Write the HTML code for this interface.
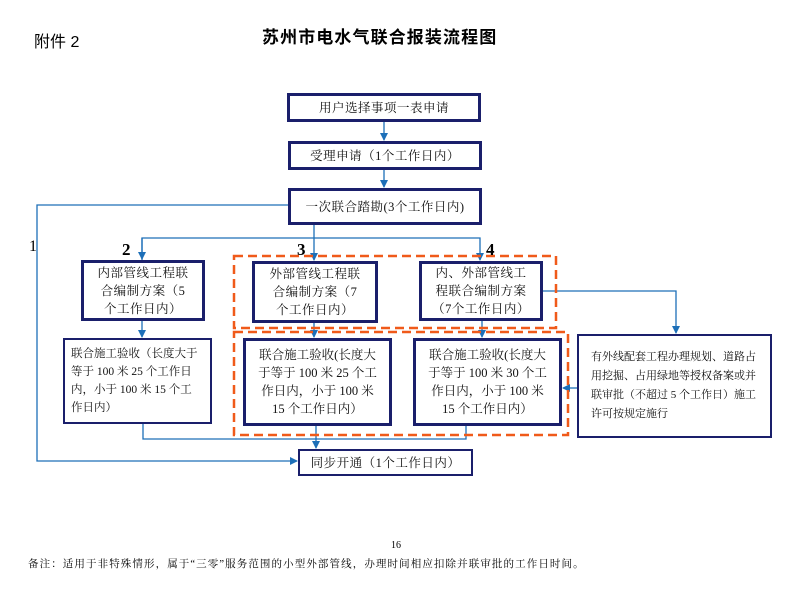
<!DOCTYPE html>
<html><head><meta charset="utf-8"><style>
body{margin:0;width:792px;height:594px;background:#fff;position:relative;font-family:"Liberation Serif","Noto Serif CJK SC","Noto Sans CJK SC",serif;overflow:hidden}
.b{position:absolute;border:3px solid #1a1f6b;box-sizing:border-box;display:flex;align-items:center;justify-content:center;text-align:center;font-size:12.5px;line-height:18px;color:#111;background:#fff;letter-spacing:0.5px}
.t{position:absolute;white-space:nowrap}
</style></head><body>
<div class="t" style="left:34px;top:28px;font-size:16px;font-family:'Liberation Sans','Noto Sans CJK SC',sans-serif">附件 2</div>
<div class="t" style="left:262px;top:23px;font-size:17px;letter-spacing:1.1px;font-weight:bold;font-family:'Noto Sans CJK SC',sans-serif">苏州市电水气联合报装流程图</div>
<svg width="792" height="594" style="position:absolute;left:0;top:0">
<defs><marker id="a" markerWidth="8" markerHeight="8" refX="7" refY="4" orient="auto" markerUnits="userSpaceOnUse"><path d="M0,0 L8,4 L0,8z" fill="#1d6fb8"/></marker></defs>
<g stroke="#1d6fb8" stroke-width="1.3" fill="none">
<line x1="384" y1="121" x2="384" y2="140" marker-end="url(#a)"/>
<line x1="384" y1="169" x2="384" y2="187" marker-end="url(#a)"/>
<polyline points="288,205 37,205 37,461 297,461" marker-end="url(#a)"/>
<line x1="314" y1="224" x2="314" y2="260" marker-end="url(#a)"/>
<polyline points="142,260 142,238 480,238 480,260" marker-end="url(#a)"/>
<line x1="142" y1="238" x2="142" y2="259" marker-end="url(#a)"/>
<line x1="142" y1="320" x2="142" y2="337" marker-end="url(#a)"/>
<line x1="314" y1="322" x2="314" y2="337" marker-end="url(#a)"/>
<line x1="482" y1="320" x2="482" y2="337" marker-end="url(#a)"/>
<polyline points="543,291 676,291 676,333" marker-end="url(#a)"/>
<line x1="577" y1="388" x2="563" y2="388" marker-end="url(#a)"/>
<polyline points="143,423 143,439 466,439 466,425"/>
<line x1="316" y1="425" x2="316" y2="448" marker-end="url(#a)"/>
</g>
<g stroke="#f05a1a" stroke-width="2.5" fill="none" stroke-dasharray="9,5">
<rect x="234" y="256" width="322" height="72"/>
<rect x="234" y="332" width="334" height="103"/>
</g>
</svg>
<div class="t" style="left:29px;top:238px;font-size:16px">1</div>
<div class="t" style="left:122px;top:240px;font-size:17px;font-weight:bold">2</div>
<div class="t" style="left:297px;top:240px;font-size:17px;font-weight:bold">3</div>
<div class="t" style="left:486px;top:240px;font-size:17px;font-weight:bold">4</div>
<div class="b" style="left:287px;top:93px;width:194px;height:29px">用户选择事项一表申请</div>
<div class="b" style="left:288px;top:141px;width:194px;height:29px">受理申请（1个工作日内）</div>
<div class="b" style="left:288px;top:188px;width:194px;height:37px">一次联合踏勘(3个工作日内)</div>
<div class="b" style="left:81px;top:260px;width:124px;height:61px">内部管线工程联<br>合编制方案（5<br>个工作日内）</div>
<div class="b" style="left:252px;top:261px;width:126px;height:62px">外部管线工程联<br>合编制方案（7<br>个工作日内）</div>
<div class="b" style="left:419px;top:261px;width:124px;height:60px">内、外部管线工<br>程联合编制方案<br>（7个工作日内）</div>
<div class="b" style="left:63px;top:338px;width:149px;height:86px;border-width:2.5px;font-size:11.5px;letter-spacing:0;text-align:left;justify-content:flex-start;padding-left:6px">联合施工验收（长度大于<br>等于 100 米 25 个工作日<br>内，小于 100 米 15 个工<br>作日内）</div>
<div class="b" style="left:243px;top:338px;width:149px;height:88px;letter-spacing:0">联合施工验收(长度大<br>于等于 100 米 25 个工<br>作日内，小于 100 米<br>15 个工作日内）</div>
<div class="b" style="left:413px;top:338px;width:149px;height:88px;letter-spacing:0">联合施工验收(长度大<br>于等于 100 米 30 个工<br>作日内，小于 100 米<br>15 个工作日内）</div>
<div class="b" style="left:577px;top:334px;width:195px;height:104px;border-width:2px;font-size:11px;letter-spacing:0;line-height:19px;text-align:left;justify-content:flex-start;padding:0 8px 0 12px">有外线配套工程办理规划、道路占<br>用挖掘、占用绿地等授权备案或并<br>联审批（不超过 5 个工作日）施工<br>许可按规定施行</div>
<div class="b" style="left:298px;top:449px;width:175px;height:27px;border-width:2.5px">同步开通（1个工作日内）</div>
<div class="t" style="left:391px;top:540px;font-size:10px">16</div>
<div class="t" style="left:28px;top:556px;font-size:10.5px;letter-spacing:1.1px">备注：适用于非特殊情形，属于“三零”服务范围的小型外部管线，办理时间相应扣除并联审批的工作日时间。</div>
</body></html>
